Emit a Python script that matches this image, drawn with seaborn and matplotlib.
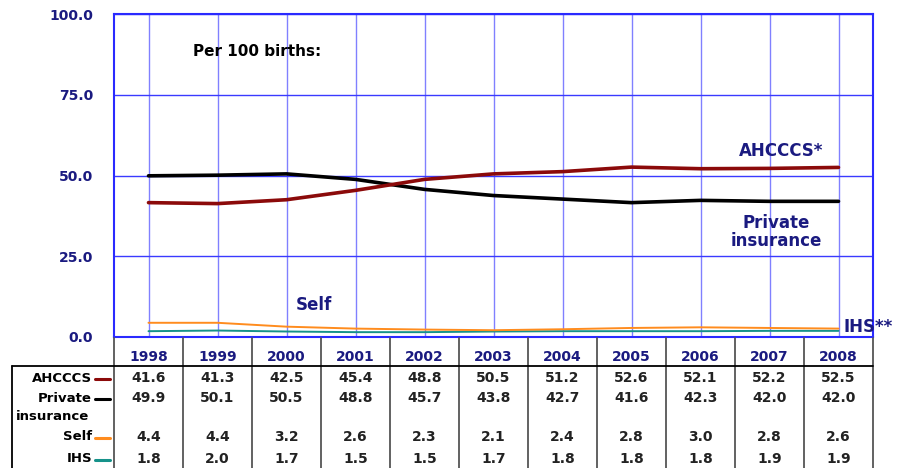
import pandas as pd
import matplotlib.pyplot as plt
import seaborn as sns
from matplotlib.lines import Line2D

sns.set_style("white")
plt.rcParams["font.family"] = ["DejaVu Sans"]

years = ["1998", "1999", "2000", "2001", "2002", "2003", "2004", "2005", "2006", "2007", "2008"]
ahcccs = [41.6, 41.3, 42.5, 45.4, 48.8, 50.5, 51.2, 52.6, 52.1, 52.2, 52.5]
private = [49.9, 50.1, 50.5, 48.8, 45.7, 43.8, 42.7, 41.6, 42.3, 42.0, 42.0]
self_pay = [4.4, 4.4, 3.2, 2.6, 2.3, 2.1, 2.4, 2.8, 3.0, 2.8, 2.6]
ihs = [1.8, 2.0, 1.7, 1.5, 1.5, 1.7, 1.8, 1.8, 1.8, 1.9, 1.9]

series = ["AHCCCS", "Private", "Self", "IHS"]
colors = {"AHCCCS": "#8b0a0a", "Private": "#000000", "Self": "#ff8c1e", "IHS": "#16928a"}
widths = {"AHCCCS": 2.6, "Private": 2.6, "Self": 1.4, "IHS": 1.4}

df = pd.DataFrame({
    "pos": list(range(len(years))) * 4,
    "value": ahcccs + private + self_pay + ihs,
    "series": sum([[s] * len(years) for s in series], []),
})

navy = "#1a1a80"
blue = "#2a2aff"
W, H = 905, 468
fig = plt.figure(figsize=(W / 100, H / 100), dpi=100)
ax = fig.add_axes([114 / W, 1 - 337 / H, (873 - 114) / W, (337 - 14) / H])

for s in ["IHS", "Self", "Private", "AHCCCS"]:
    sns.lineplot(data=df[df["series"] == s], x="pos", y="value", color=colors[s],
                 linewidth=widths[s], ax=ax, legend=False, zorder=3)

ax.set_xlim(-0.5, 10.5)
ax.set_ylim(0, 100)
ax.set_yticks([0, 25, 50, 75, 100])
ax.set_yticklabels(["0.0", "25.0", "50.0", "75.0", "100.0"])
ax.set_xticks(range(len(years)))
ax.set_xticklabels([])
ax.tick_params(axis="y", length=0, pad=15, labelsize=10, labelcolor=navy)
ax.tick_params(axis="x", length=0)
for lab in ax.get_yticklabels():
    lab.set_fontweight("bold")
ax.set_xlabel("")
ax.set_ylabel("")
ax.grid(True, axis="y", color="#3a3aff", linewidth=1)
ax.grid(True, axis="x", color="#8080ff", linewidth=1)
for sp in ax.spines.values():
    sp.set_color(blue)
    sp.set_linewidth(1.5)

# labels inside plot
ax.text(1.58, 88.5, "Per 100 births:", ha="center", va="center", fontsize=11, fontweight="bold", color="black")
ax.text(9.17, 57.5, "AHCCCS*", ha="center", va="center", fontsize=12, fontweight="bold", color=navy)
ax.text(9.1, 32.5, "Private\ninsurance", ha="center", va="center", fontsize=12, fontweight="bold",
        color=navy, linespacing=1.05)
ax.text(2.4, 9.9, "Self", ha="center", va="center", fontsize=12, fontweight="bold", color=navy)
ax.text(10.07, 3.0, "IHS**", ha="left", va="center", fontsize=12, fontweight="bold", color=navy)

# table below
def fy(py):
    return 1 - py / H

def fx(px):
    return px / W

grey = "#555555"
for k in range(len(years) + 1):
    x = 114 + 69 * k
    fig.add_artist(Line2D([fx(x), fx(x)], [fy(338), fy(468)], color=grey, lw=1.3))
fig.add_artist(Line2D([fx(12), fx(873)], [fy(366), fy(366)], color="black", lw=1.3))
fig.add_artist(Line2D([fx(12), fx(12)], [fy(366), fy(468)], color="black", lw=1.3))

trans = ax.get_xaxis_transform()
def ay(py):
    return (337 - py) / 323

for i, yr in enumerate(years):
    ax.text(i, ay(357), yr, transform=trans, ha="center", va="center", fontsize=10,
            fontweight="bold", color=navy, clip_on=False)

rows = [("AHCCCS", ahcccs, 378), ("Private", private, 398), ("Self", self_pay, 437), ("IHS", ihs, 459)]
for name, vals, py in rows:
    fig.text(fx(92), fy(py), name, ha="right", va="center", fontsize=9.5, fontweight="bold", color="black")
    fig.add_artist(Line2D([fx(95), fx(110)], [fy(py + 1), fy(py + 1)], color=colors[name], lw=2.2))
    for i, v in enumerate(vals):
        ax.text(i, ay(py), f"{v:.1f}", transform=trans, ha="center", va="center", fontsize=10,
                fontweight="bold", color="#222222", clip_on=False)
fig.text(fx(16), fy(417), "insurance", ha="left", va="center", fontsize=9.5, fontweight="bold", color="black")

fig.savefig("out.png", dpi=100)
